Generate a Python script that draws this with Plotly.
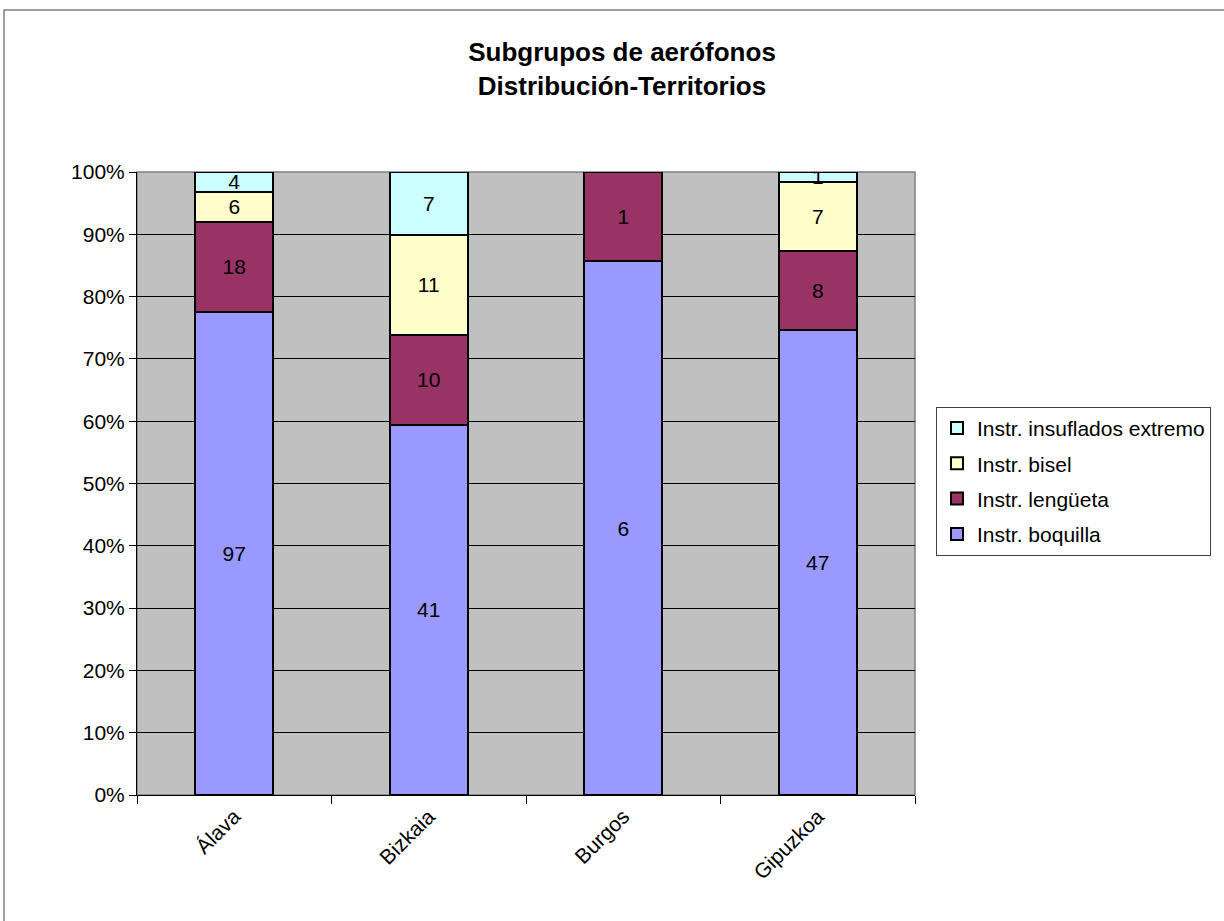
import plotly.graph_objects as go

territorios = ["Álava", "Bizkaia", "Burgos", "Gipuzkoa"]
series_names = ["Instr. boquilla", "Instr. lengüeta", "Instr. bisel", "Instr. insuflados extremo"]
boquilla = [97, 41, 6, 47]
lengueta = [18, 10, 1, 8]
bisel = [6, 11, 0, 7]
insuflados = [4, 7, 0, 1]
colors = ["#9999FF", "#993366", "#FFFFCC", "#CCFFFF"]

FONT = "Arial, Liberation Sans, sans-serif"

fig = go.Figure()
for i, (name, vals, col) in enumerate(zip(series_names, [boquilla, lengueta, bisel, insuflados], colors)):
    fig.add_trace(go.Bar(
        x=territorios, y=vals, name=name, legendgroup=f"g{i}", legendrank=10 - i,
        marker=dict(color=col, line=dict(color="black", width=2)),
        text=[str(v) if v else "" for v in vals],
        textposition="inside", insidetextanchor="middle",
        constraintext="none", textangle=0,
        textfont=dict(family=FONT, size=21, color="black"),
        hoverinfo="skip",
    ))

fig.update_layout(
    width=1224, height=921,
    barmode="stack", barnorm="percent", bargap=0.6,
    paper_bgcolor="white", plot_bgcolor="#C0C0C0",
    margin=dict(l=137, r=309, t=172, b=126),
    font=dict(family=FONT, size=21, color="black"),
    uniformtext=dict(minsize=21, mode="show"),
    title=dict(text="<b>Subgrupos de aerófonos<br>Distribución-Territorios</b>",
               x=622 / 1224, xanchor="center", y=1 - 61 / 921, yanchor="top",
               font=dict(family=FONT, size=26, color="black")),
    legend=dict(traceorder="grouped", tracegroupgap=5,
                x=1.027, xanchor="left", y=0.623, yanchor="top",
                bordercolor="#404040", borderwidth=1, bgcolor="white",
                font=dict(family=FONT, size=21, color="black"),
                itemsizing="constant"),
    showlegend=True,
)
fig.update_yaxes(range=[0, 100], dtick=10, ticksuffix="%", showgrid=True,
                 gridcolor="black", gridwidth=1, showline=True, linecolor="black",
                 linewidth=1, ticks="outside", ticklen=7, tickcolor="black",
                 tickfont=dict(family=FONT, size=21), zeroline=False)
fig.update_xaxes(tickson="boundaries", ticks="outside", ticklen=8, tickcolor="black",
                 showline=True, linecolor="black", linewidth=1, tickangle=-45,
                 tickfont=dict(family=FONT, size=21), showgrid=False)

# plot area border and outer chart frame
fig.add_shape(type="rect", xref="paper", yref="paper", x0=0, x1=1, y0=0, y1=1,
              line=dict(color="#808080", width=1.5), layer="below")
fig.add_shape(type="rect", xref="paper", yref="paper",
              x0=(4 - 137) / 778, x1=1.6, y0=-0.5, y1=(795 - 10) / 623,
              line=dict(color="#808080", width=1.5))

fig.write_html("out.html", config={"displayModeBar": False},
               post_script="document.body.style.margin='0px';")
